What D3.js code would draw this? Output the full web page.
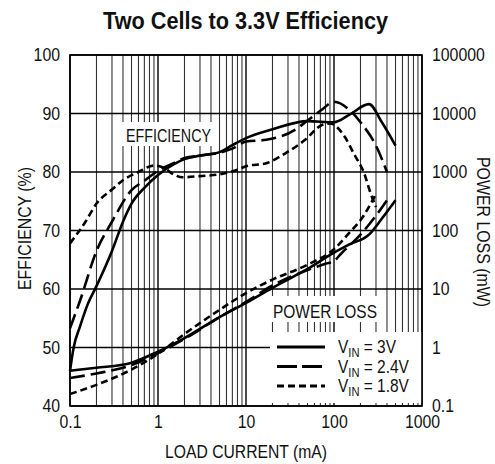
<!DOCTYPE html>
<html>
<head>
<meta charset="utf-8">
<script src="https://cdn.jsdelivr.net/npm/d3@7"></script>
<style>
  body { margin: 0; background: #fff; }
  text { font-family: "Liberation Sans", Arial, sans-serif; fill: #111; }
</style>
</head>
<body>
<div id="chart"></div>
<script>
// Efficiency curves (%), x = load current in mA
const effX3V = [0.1, 0.11, 0.13, 0.16, 0.2, 0.3, 0.4, 0.5, 0.7, 1, 1.5, 2, 3, 5, 7, 10, 20, 50, 100, 150, 250, 350, 500];
const eff3V  = [46, 50, 53.6, 57.5, 60.5, 66.5, 71.5, 74.6, 77.3, 79.5, 81.3, 82.2, 82.8, 83.4, 84.6, 85.8, 87.3, 88.7, 88.5, 89.8, 91.6, 88.5, 84.5];

const effX24V = [0.1, 0.13, 0.2, 0.3, 0.5, 0.7, 1, 1.5, 2, 3, 5, 7, 10, 17, 36, 50, 72, 100, 150, 200, 300, 400];
const eff24V  = [53.3, 58, 66.5, 71.5, 76.9, 78.5, 80.2, 81.5, 82.4, 82.8, 83.3, 84, 85.2, 85.5, 87.2, 88.8, 90.6, 92, 90.6, 88.5, 84.5, 80];

const effX18V = [0.1, 0.15, 0.2, 0.3, 0.4, 0.6, 0.9, 1.2, 1.5, 1.9, 3, 5, 8, 10, 17, 28, 47, 72, 90, 130, 170, 220, 260, 300];
const eff18V  = [67.8, 71.5, 74.6, 77, 78.6, 80, 81.1, 80.6, 79.6, 79.1, 79.3, 79.6, 80.4, 81, 81.5, 83.2, 85.5, 88, 88.3, 86.2, 83, 79.8, 76.4, 74];

// Power loss curves (mW)
const lossX3V = [0.1, 0.2, 0.5, 1, 2, 5, 10, 20, 50, 100, 150, 250, 350, 500];
const loss3V  = [0.40, 0.45, 0.55, 0.85, 1.45, 3.3, 5.8, 10.5, 22, 42, 58, 85, 160, 330];

const lossX24V = [0.1, 0.2, 0.5, 1, 2, 5, 10, 20, 50, 80, 100, 120, 200, 300, 400];
const loss24V  = [0.30, 0.36, 0.5, 0.8, 1.4, 3.3, 6, 11.5, 21, 27, 30, 40, 85, 180, 330];

const lossX18V = [0.1, 0.2, 0.5, 1, 2, 5, 10, 20, 50, 100, 150, 200, 300];
const loss18V  = [0.16, 0.23, 0.42, 0.78, 1.7, 4.4, 8.5, 14.5, 26, 48, 92, 150, 420];

const seriesNames = ["3V", "2.4V", "1.8V"];
const effTicks = [40, 50, 60, 70, 80, 90, 100];
const lossTicks = [0.1, 1, 10, 100, 1000, 10000, 100000];
const currentTicks = [0.1, 1, 10, 100, 1000];

const width = 495;
const height = 464;
const margin = { top: 55, right: 73, bottom: 58, left: 70 };
const w = width - margin.left - margin.right;
const h = height - margin.top - margin.bottom;

const dashes = { "3V": null, "2.4V": "15,6", "1.8V": "7,4" };

// squeeze text horizontally to look like a condensed face
function condense(sel, k) {
    sel.each(function () {
        const t = d3.select(this);
        const x0 = +t.attr("x") || 0;
        t.attr("x", x0 / k);
        const tr = t.attr("transform") || "";
        t.attr("transform", (tr + ` scale(${k},1)`).trim());
    });
}

const svg = d3.select("#chart")
    .append("svg")
    .attr("width", width)
    .attr("height", height);

const x = d3.scaleLog().domain([0.1, 1000]).range([margin.left, margin.left + w]);
const yEff = d3.scaleLinear().domain([40, 100]).range([margin.top + h, margin.top]);
const yLoss = d3.scaleLog().domain([0.1, 100000]).range([margin.top + h, margin.top]);

// Title
svg.append("text")
    .attr("x", 103)
    .attr("y", 29)
    .attr("textLength", 285)
    .attr("lengthAdjust", "spacingAndGlyphs")
    .style("font-size", "23px")
    .style("font-weight", "bold")
    .text("Two Cells to 3.3V Efficiency");

// Grid: minor verticals
const minor = x.ticks().filter(v => !currentTicks.includes(v));
svg.append("g")
    .selectAll("line")
    .data(minor)
    .enter()
    .append("line")
    .attr("x1", d => x(d)).attr("x2", d => x(d))
    .attr("y1", margin.top).attr("y2", margin.top + h)
    .attr("stroke", "#333")
    .attr("stroke-width", 1.1);

// Grid: major verticals
svg.append("g")
    .selectAll("line")
    .data(currentTicks)
    .enter()
    .append("line")
    .attr("x1", d => x(d)).attr("x2", d => x(d))
    .attr("y1", margin.top).attr("y2", margin.top + h)
    .attr("stroke", "#000")
    .attr("stroke-width", 1.4);

// Grid: horizontals
svg.append("g")
    .selectAll("line")
    .data(effTicks)
    .enter()
    .append("line")
    .attr("x1", margin.left).attr("x2", margin.left + w)
    .attr("y1", d => yEff(d)).attr("y2", d => yEff(d))
    .attr("stroke", "#000")
    .attr("stroke-width", 1.4);

// White label boxes over the grid
svg.append("rect").attr("x", 121).attr("y", 122).attr("width", 96).attr("height", 24).attr("fill", "#fff");
svg.append("rect").attr("x", 270).attr("y", 296).attr("width", 108).attr("height", 26).attr("fill", "#fff");
svg.append("rect").attr("x", 270).attr("y", 332).attr("width", 152).attr("height", 71).attr("fill", "#fff");

// Plot border
svg.append("rect")
    .attr("x", margin.left).attr("y", margin.top)
    .attr("width", w).attr("height", h)
    .attr("fill", "none")
    .attr("stroke", "#000")
    .attr("stroke-width", 1.6);

// Axes (labels only)
const xAxis = svg.append("g")
    .attr("transform", `translate(0,${margin.top + h})`)
    .call(d3.axisBottom(x).tickValues(currentTicks).tickFormat(d => String(d)).tickSize(0).tickPadding(9))
    .call(g => g.select(".domain").remove());

const yAxisL = svg.append("g")
    .attr("transform", `translate(${margin.left},0)`)
    .call(d3.axisLeft(yEff).tickValues(effTicks).tickSize(0).tickPadding(10))
    .call(g => g.select(".domain").remove());

const yAxisR = svg.append("g")
    .attr("transform", `translate(${margin.left + w},0)`)
    .call(d3.axisRight(yLoss).tickValues(lossTicks).tickFormat(d => String(d)).tickSize(0).tickPadding(10))
    .call(g => g.select(".domain").remove());

svg.selectAll(".tick text")
    .attr("fill", "#111")
    .style("font-family", "'Liberation Sans', Arial, sans-serif")
    .style("font-size", "18px");
condense(svg.selectAll(".tick text"), 0.88);

// Axis titles
svg.append("text")
    .attr("x", 165).attr("y", 458)
    .attr("textLength", 162)
    .attr("lengthAdjust", "spacingAndGlyphs")
    .style("font-size", "18px")
    .text("LOAD CURRENT (mA)");

svg.append("text")
    .attr("transform", "translate(31,290) rotate(-90)")
    .attr("textLength", 123)
    .attr("lengthAdjust", "spacingAndGlyphs")
    .style("font-size", "18px")
    .text("EFFICIENCY (%)");

svg.append("text")
    .attr("transform", "translate(477,157) rotate(90)")
    .attr("textLength", 150)
    .attr("lengthAdjust", "spacingAndGlyphs")
    .style("font-size", "18px")
    .text("POWER LOSS (mW)");

// In-plot labels
svg.append("text").attr("x", 126).attr("y", 142)
    .attr("textLength", 85).attr("lengthAdjust", "spacingAndGlyphs")
    .style("font-size", "18px").text("EFFICIENCY");
svg.append("text").attr("x", 273).attr("y", 318)
    .attr("textLength", 104).attr("lengthAdjust", "spacingAndGlyphs")
    .style("font-size", "18px").text("POWER LOSS");

// Curves
const effLine = d3.line().x(d => x(d[0])).y(d => yEff(d[1])).curve(d3.curveMonotoneX);
const lossLine = d3.line().x(d => x(d[0])).y(d => yLoss(d[1])).curve(d3.curveMonotoneX);

const effSeries = [
    { name: "3V", pts: d3.zip(effX3V, eff3V) },
    { name: "2.4V", pts: d3.zip(effX24V, eff24V) },
    { name: "1.8V", pts: d3.zip(effX18V, eff18V) }
];
const lossSeries = [
    { name: "3V", pts: d3.zip(lossX3V, loss3V) },
    { name: "2.4V", pts: d3.zip(lossX24V, loss24V) },
    { name: "1.8V", pts: d3.zip(lossX18V, loss18V) }
];

svg.append("g")
    .selectAll("path")
    .data(effSeries)
    .enter()
    .append("path")
    .attr("d", d => effLine(d.pts))
    .attr("fill", "none")
    .attr("stroke", "#000")
    .attr("stroke-width", 2.6)
    .attr("stroke-dasharray", d => dashes[d.name]);

svg.append("g")
    .selectAll("path")
    .data(lossSeries)
    .enter()
    .append("path")
    .attr("d", d => lossLine(d.pts))
    .attr("fill", "none")
    .attr("stroke", "#000")
    .attr("stroke-width", 2.6)
    .attr("stroke-dasharray", d => dashes[d.name]);

// Legend
const legend = svg.append("g")
    .selectAll("g")
    .data(seriesNames)
    .enter()
    .append("g")
    .attr("transform", (d, i) => `translate(277,${347 + i * 19.5})`);

legend.append("line")
    .attr("x1", 0).attr("x2", 48)
    .attr("stroke", "#000")
    .attr("stroke-width", 2.8)
    .attr("stroke-dasharray", d => d === "2.4V" ? "20,5" : dashes[d]);

const lt = legend.append("text")
    .attr("x", 61)
    .attr("y", 6)
    .style("font-size", "18px");
lt.append("tspan").text("V");
lt.append("tspan").attr("dy", 4).style("font-size", "13px").text("IN");
lt.append("tspan").attr("dy", -4).text(d => ` = ${d}`);
condense(lt, 0.86);
</script>
</body>
</html>
